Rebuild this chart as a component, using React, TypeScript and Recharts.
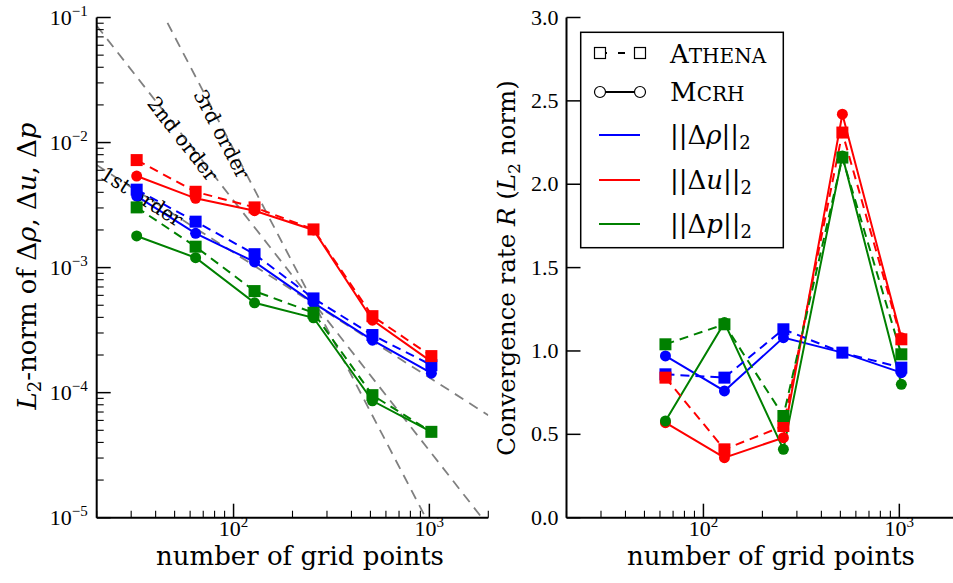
import React from 'react';
import { LineChart, Line, XAxis, YAxis, ReferenceDot } from 'recharts';

const SERIF = '"DejaVu Serif", serif';
const TICK_FONT = '"Liberation Serif", "DejaVu Serif", serif';

const BLUE = '#0000ff';
const RED = '#ff0000';
const GREEN = '#008000';
const GRAY = '#808080';

// grid resolutions
const gridPoints = [32, 64, 128, 256, 512, 1024];
const rateGridPoints = [64, 128, 256, 512, 1024];

// L2 errors, ATHENA (squares, dashed)
const athenaRho = [4.2e-3, 2.33e-3, 1.28e-3, 5.67e-4, 2.89e-4, 1.66e-4];
const athenaU = [7.24e-3, 4.04e-3, 3.03e-3, 2.02e-3, 4.09e-4, 1.96e-4];
const athenaP = [3.03e-3, 1.47e-3, 6.49e-4, 4.35e-4, 9.55e-5, 4.86e-5];
// L2 errors, MCRH (circles, solid)
const mcrhRho = [3.73e-3, 1.88e-3, 1.11e-3, 5.23e-4, 2.63e-4, 1.43e-4];
const mcrhU = [5.4e-3, 3.58e-3, 2.85e-3, 2.0e-3, 3.8e-4, 1.77e-4];
const mcrhP = [1.79e-3, 1.2e-3, 5.23e-4, 3.97e-4, 8.6e-5, 4.86e-5];

// convergence rates
const rateAthenaRho = [0.86, 0.84, 1.13, 0.99, 0.9];
const rateAthenaU = [0.84, 0.41, 0.55, 2.31, 1.07];
const rateAthenaP = [1.04, 1.16, 0.61, 2.16, 0.98];
const rateMcrhRho = [0.97, 0.76, 1.08, 0.99, 0.87];
const rateMcrhU = [0.57, 0.36, 0.48, 2.42, 1.08];
const rateMcrhP = [0.58, 1.17, 0.41, 2.17, 0.8];

// guide lines, end values at N = 20 and N = 2000
const refEnds = [20, 2000];
const firstOrder = [6.6e-3, 6.6e-5];
const secondOrder = [8.6e-2, 8.6e-6];
const thirdOrder = [1.1, 1.1e-6];

const orderLabels = [
  { text: '1st order', n: 34, v: 3.7e-3, angle: 32.5 },
  { text: '2nd order', n: 55, v: 1.07e-2, angle: 51.9 },
  { text: '3rd order', n: 87, v: 1.17e-2, angle: 62.4 },
];

// axis ticks
const xTicks = [20, 30, 40, 50, 60, 70, 80, 90, 100, 200, 300, 400, 500, 600, 700, 800, 900, 1000, 2000];
const yDecades = [1e-5, 1e-4, 1e-3, 1e-2, 1e-1];
const yMinorSteps = [2, 3, 4, 5, 6, 7, 8, 9];
const yTicks = [...yDecades, ...yDecades.slice(0, 4).flatMap((d) => yMinorSteps.map((m) => m * d))];
const rateTicks = [0, 0.5, 1, 1.5, 2, 2.5, 3];

const pts = (xs: number[], ys: number[]) => xs.map((n, i) => ({ n, v: ys[i] }));

const isMajor = (v: number) => Math.abs(Math.log10(v) - Math.round(Math.log10(v))) < 1e-6;

const expText = (v: number) => {
  const e = Math.round(Math.log10(v));
  return e < 0 ? '\u2212' + Math.abs(e) : String(e);
};

const logXTick = (side: 'top' | 'bottom') => (props: any) => {
  const { x, y, payload } = props;
  const major = isMajor(payload.value);
  const len = major ? 14 : 7;
  const dir = side === 'bottom' ? -1 : 1;
  return (
    <g>
      <line x1={x} y1={y} x2={x} y2={y + dir * len} stroke="#000" strokeWidth={major ? 1.5 : 1.1} />
      {side === 'bottom' && major && (
        <text x={x} y={y + 18} textAnchor="middle" fontFamily={TICK_FONT} fontSize={22} fill="#000">
          10<tspan dy={-9} fontSize={15}>{expText(payload.value)}</tspan>
        </text>
      )}
    </g>
  );
};

const logYTick = (side: 'left' | 'right') => (props: any) => {
  const { x, y, payload } = props;
  const major = isMajor(payload.value);
  const len = major ? 14 : 7;
  const dir = side === 'left' ? 1 : -1;
  return (
    <g>
      <line x1={x} y1={y} x2={x + dir * len} y2={y} stroke="#000" strokeWidth={major ? 1.5 : 1.1} />
      {side === 'left' && major && (
        <text x={x - 9} y={y + 7} textAnchor="end" fontFamily={TICK_FONT} fontSize={22} fill="#000">
          10<tspan dy={-9} fontSize={15}>{expText(payload.value)}</tspan>
        </text>
      )}
    </g>
  );
};

const rateYTick = (side: 'left' | 'right') => (props: any) => {
  const { x, y, payload } = props;
  const dir = side === 'left' ? 1 : -1;
  return (
    <g>
      <line x1={x} y1={y} x2={x + dir * 14} y2={y} stroke="#000" strokeWidth={1.5} />
      {side === 'left' && (
        <text x={x - 8} y={y + 7} textAnchor="end" fontFamily={TICK_FONT} fontSize={22} fill="#000">
          {payload.value.toFixed(1)}
        </text>
      )}
    </g>
  );
};

const squareDot = (color: string) => (p: any) => (
  <rect key={`sq-${color}-${p.index}`} x={p.cx - 6} y={p.cy - 6} width={12} height={12} fill={color} />
);
const circleDot = (color: string) => ({ r: 5.5, fill: color, stroke: color, strokeWidth: 0 });

const frame = { stroke: '#000', strokeWidth: 2 };

function ErrorPanel() {
  const errSeries = [
    { id: 'mr', xs: gridPoints, ys: mcrhRho, color: BLUE, dashed: false },
    { id: 'mu', xs: gridPoints, ys: mcrhU, color: RED, dashed: false },
    { id: 'mp', xs: gridPoints, ys: mcrhP, color: GREEN, dashed: false },
    { id: 'ar', xs: gridPoints, ys: athenaRho, color: BLUE, dashed: true },
    { id: 'au', xs: gridPoints, ys: athenaU, color: RED, dashed: true },
    { id: 'ap', xs: gridPoints, ys: athenaP, color: GREEN, dashed: true },
  ];
  return (
    <LineChart width={500} height={583} margin={{ top: 17.5, right: 11.7, bottom: 0, left: 0 }}>
      <XAxis xAxisId="b" dataKey="n" type="number" scale="log" domain={[20, 2000]} allowDataOverflow
        ticks={xTicks} interval={0} tickSize={0} tickMargin={0} tick={logXTick('bottom')}
        height={65.3} orientation="bottom" axisLine={frame} tickLine={false} />
      <XAxis xAxisId="t" dataKey="n" type="number" scale="log" domain={[20, 2000]} allowDataOverflow
        ticks={xTicks} interval={0} tickSize={0} tickMargin={0} tick={logXTick('top')}
        height={0} orientation="top" axisLine={frame} tickLine={false} />
      <YAxis yAxisId="l" dataKey="v" type="number" scale="log" domain={[1e-5, 1e-1]} allowDataOverflow
        ticks={yTicks} interval={0} tickSize={0} tickMargin={0} tick={logYTick('left')}
        width={96.7} orientation="left" axisLine={frame} tickLine={false} />
      <YAxis yAxisId="r" dataKey="v" type="number" scale="log" domain={[1e-5, 1e-1]} allowDataOverflow
        ticks={yTicks} interval={0} tickSize={0} tickMargin={0} tick={logYTick('right')}
        width={0} orientation="right" axisLine={frame} tickLine={false} />
      {[firstOrder, secondOrder, thirdOrder].map((ys, i) => (
        <Line key={`ref${i}`} xAxisId="b" yAxisId="l" data={pts(refEnds, ys)} dataKey="v"
          stroke={GRAY} strokeWidth={1.8} strokeDasharray="10 7" dot={false} activeDot={false}
          isAnimationActive={false} />
      ))}
      {orderLabels.map((o) => (
        <ReferenceDot key={o.text} xAxisId="b" yAxisId="l" x={o.n} y={o.v} r={0}
          shape={(p: any) => (
            <text x={p.cx} y={p.cy} transform={`rotate(${o.angle}, ${p.cx}, ${p.cy})`}
              textAnchor="middle" dominantBaseline="central" fontFamily={SERIF} fontSize={20} fill="#000">
              {o.text}
            </text>
          )} />
      ))}
      {errSeries.map((s) => (
        <Line key={s.id} xAxisId="b" yAxisId="l" data={pts(s.xs, s.ys)} dataKey="v"
          stroke={s.color} strokeWidth={2} strokeDasharray={s.dashed ? '9 6' : undefined}
          dot={s.dashed ? squareDot(s.color) : circleDot(s.color)} activeDot={false}
          isAnimationActive={false} />
      ))}
    </LineChart>
  );
}

function RatePanel() {
  const rateSeries = [
    { id: 'mr', ys: rateMcrhRho, color: BLUE, dashed: false },
    { id: 'mu', ys: rateMcrhU, color: RED, dashed: false },
    { id: 'mp', ys: rateMcrhP, color: GREEN, dashed: false },
    { id: 'ar', ys: rateAthenaRho, color: BLUE, dashed: true },
    { id: 'au', ys: rateAthenaU, color: RED, dashed: true },
    { id: 'ap', ys: rateAthenaP, color: GREEN, dashed: true },
  ];
  return (
    <LineChart width={480} height={583} margin={{ top: 17.5, right: 11.7, bottom: 0, left: 0 }}>
      <XAxis xAxisId="b" dataKey="n" type="number" scale="log" domain={[20, 2000]} allowDataOverflow
        ticks={xTicks} interval={0} tickSize={0} tickMargin={0} tick={logXTick('bottom')}
        height={65.3} orientation="bottom" axisLine={frame} tickLine={false} />
      <XAxis xAxisId="t" dataKey="n" type="number" scale="log" domain={[20, 2000]} allowDataOverflow
        ticks={xTicks} interval={0} tickSize={0} tickMargin={0} tick={logXTick('top')}
        height={0} orientation="top" axisLine={frame} tickLine={false} />
      <YAxis yAxisId="l" dataKey="v" type="number" domain={[0, 3]} allowDataOverflow
        ticks={rateTicks} interval={0} tickSize={0} tickMargin={0} tick={rateYTick('left')}
        width={76.5} orientation="left" axisLine={frame} tickLine={false} />
      <YAxis yAxisId="r" dataKey="v" type="number" domain={[0, 3]} allowDataOverflow
        ticks={rateTicks} interval={0} tickSize={0} tickMargin={0} tick={rateYTick('right')}
        width={0} orientation="right" axisLine={frame} tickLine={false} />
      {rateSeries.map((s) => (
        <Line key={s.id} xAxisId="b" yAxisId="l" data={pts(rateGridPoints, s.ys)} dataKey="v"
          stroke={s.color} strokeWidth={2} strokeDasharray={s.dashed ? '9 6' : undefined}
          dot={s.dashed ? squareDot(s.color) : circleDot(s.color)} activeDot={false}
          isAnimationActive={false} />
      ))}
    </LineChart>
  );
}

function Overlay() {
  const legendRows = [
    { y: 135, color: BLUE, sym: '\u03c1' },
    { y: 180, color: RED, sym: 'u' },
    { y: 224, color: GREEN, sym: 'p' },
  ];
  return (
    <svg width={953} height={583} style={{ position: 'absolute', left: 0, top: 0, pointerEvents: 'none' }}
      fontFamily={SERIF} fill="#000">
      {/* axis labels */}
      <text x={300} y={565} textAnchor="middle" fontSize={26}>number of grid points</text>
      <text x={771} y={565} textAnchor="middle" fontSize={26}>number of grid points</text>
      <text transform="translate(36,266) rotate(-90)" textAnchor="middle" fontSize={26}>
        <tspan fontStyle="italic">L</tspan>
        <tspan fontSize={18} dy={5}>2</tspan>
        <tspan dy={-5}>-norm of Δ</tspan>
        <tspan fontStyle="italic">ρ</tspan>
        <tspan>, Δ</tspan>
        <tspan fontStyle="italic">u</tspan>
        <tspan>, Δ</tspan>
        <tspan fontStyle="italic">p</tspan>
      </text>
      <text transform="translate(515,268) rotate(-90)" textAnchor="middle" fontSize={24.5}>
        <tspan>Convergence rate </tspan>
        <tspan fontStyle="italic">R</tspan>
        <tspan> (</tspan>
        <tspan fontStyle="italic">L</tspan>
        <tspan fontSize={17} dy={5}>2</tspan>
        <tspan dy={-5}> norm)</tspan>
      </text>

      {/* legend */}
      <rect x={580.7} y={32.3} width={202.6} height={215.4} fill="#fff" stroke="#000" strokeWidth={1.5} />
      <line x1={600} y1={53} x2={640} y2={53} stroke="#000" strokeWidth={1.8} strokeDasharray="7 11" />
      <rect x={594.5} y={47.5} width={11} height={11} fill="#fff" stroke="#000" strokeWidth={1.2} />
      <rect x={634.5} y={47.5} width={11} height={11} fill="#fff" stroke="#000" strokeWidth={1.2} />
      <text x={670} y={63} fontSize={26}>
        A<tspan fontSize={20}>THENA</tspan>
      </text>
      <line x1={600} y1={92} x2={640} y2={92} stroke="#000" strokeWidth={1.8} />
      <circle cx={600} cy={92} r={5.5} fill="#fff" stroke="#000" strokeWidth={1.2} />
      <circle cx={640} cy={92} r={5.5} fill="#fff" stroke="#000" strokeWidth={1.2} />
      <text x={670} y={101} fontSize={26}>
        M<tspan fontSize={20}>CRH</tspan>
      </text>
      {legendRows.map((r) => (
        <g key={r.sym}>
          <line x1={599} y1={r.y} x2={640} y2={r.y} stroke={r.color} strokeWidth={2} />
          <text x={670} y={r.y + 9} fontSize={26}>
            <tspan>||Δ</tspan>
            <tspan fontStyle="italic">{r.sym}</tspan>
            <tspan>||</tspan>
            <tspan fontSize={18} dy={5}>2</tspan>
          </text>
        </g>
      ))}
    </svg>
  );
}

export default function App() {
  return (
    <div style={{ position: 'fixed', left: 0, top: 0, width: 953, height: 583, overflow: 'hidden', background: '#fff' }}>
      <div style={{ position: 'absolute', left: 0, top: 0 }}>
        <ErrorPanel />
      </div>
      <div style={{ position: 'absolute', left: 490, top: 0 }}>
        <RatePanel />
      </div>
      <Overlay />
    </div>
  );
}
